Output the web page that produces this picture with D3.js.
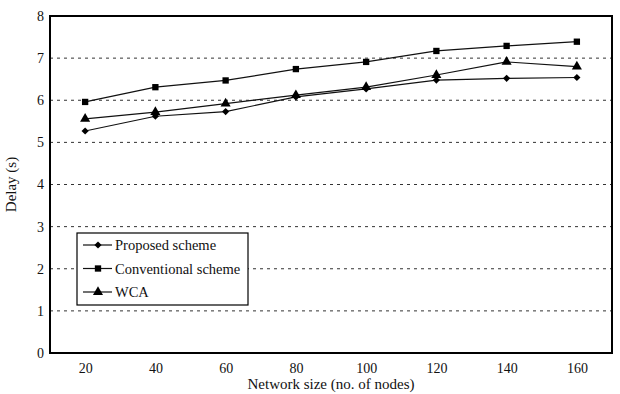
<!DOCTYPE html>
<html>
<head>
<meta charset="utf-8">
<script src="https://cdn.jsdelivr.net/npm/d3@7"></script>
<style>
  body { margin: 0; background: #fff; }
  svg { font-family: "Liberation Serif", "Times New Roman", serif; }
</style>
</head>
<body>
<svg width="620" height="394"></svg>
<script>
// chart data
const nodes = [20, 40, 60, 80, 100, 120, 140, 160];
const proposed = [5.27, 5.62, 5.73, 6.08, 6.27, 6.48, 6.52, 6.54];
const conventional = [5.96, 6.31, 6.47, 6.74, 6.91, 7.17, 7.29, 7.39];
const wca = [5.56, 5.72, 5.92, 6.12, 6.31, 6.60, 6.91, 6.80];
const yTicks = [0, 1, 2, 3, 4, 5, 6, 7, 8];
const seriesNames = ['Proposed scheme', 'Conventional scheme', 'WCA'];

const margin = { left: 50, right: 8, top: 16, bottom: 41 };
const svg = d3.select('svg');
const width = 620 - margin.left - margin.right;
const height = 394 - margin.top - margin.bottom;
const g = svg.append('g').attr('transform', `translate(${margin.left}, ${margin.top})`);

const x = d3.scalePoint().domain(nodes).range([0, width]).padding(0.5);
const y = d3.scaleLinear().domain([0, 8]).range([height, 0]);

// dashed grid
g.selectAll('.grid')
  .data(yTicks.filter(d => d > 0 && d < 8))
  .enter().append('line')
  .attr('x1', 0).attr('x2', width)
  .attr('y1', d => y(d)).attr('y2', d => y(d))
  .attr('stroke', '#333').attr('stroke-width', 1)
  .attr('stroke-dasharray', '3,4');

// y axis labels
const yAxis = g.append('g').call(d3.axisLeft(y).tickValues(yTicks).tickSize(0).tickPadding(6));
yAxis.select('.domain').remove();
yAxis.selectAll('text').attr('font-size', 14).attr('font-family', 'Liberation Serif').attr('fill', '#111');

// x axis labels
const xAxis = g.append('g').attr('transform', `translate(0, ${height})`)
  .call(d3.axisBottom(x).tickSize(0).tickPadding(10));
xAxis.select('.domain').remove();
xAxis.selectAll('text').attr('font-size', 14).attr('font-family', 'Liberation Serif').attr('fill', '#111');

// frame
g.append('rect')
  .attr('x', 0).attr('y', 0).attr('width', width).attr('height', height)
  .attr('fill', 'none').attr('stroke', '#000').attr('stroke-width', 2);

// axis titles
svg.append('text')
  .attr('x', margin.left + width / 2).attr('y', 389)
  .attr('text-anchor', 'middle').attr('font-size', 15).attr('fill', '#111')
  .text('Network size (no. of nodes)');
svg.append('text')
  .attr('transform', `translate(16, ${margin.top + height / 2}) rotate(-90)`)
  .attr('text-anchor', 'middle').attr('font-size', 15).attr('fill', '#111')
  .text('Delay (s)');

// marker shapes (diamond = rotated square)
const symbols = [d3.symbolSquare, d3.symbolSquare, d3.symbolTriangle];
const sizes = [26, 40, 44];
const rot = [' rotate(45)', '', ''];
const seriesData = [proposed, conventional, wca];

const line = d3.line().x((d, i) => x(nodes[i])).y(d => y(d));

seriesData.forEach((vals, s) => {
  g.append('path')
    .datum(vals)
    .attr('d', line)
    .attr('fill', 'none').attr('stroke', '#111').attr('stroke-width', 1.2);
  g.selectAll('.m' + s)
    .data(vals)
    .enter().append('path')
    .attr('transform', (d, i) => `translate(${x(nodes[i])}, ${y(d)})` + rot[s])
    .attr('d', d3.symbol().type(symbols[s]).size(sizes[s]))
    .attr('fill', '#000');
});

// legend
const legend = svg.append('g').attr('transform', 'translate(77, 233)');
legend.append('rect')
  .attr('width', 171).attr('height', 72)
  .attr('fill', '#fff').attr('stroke', '#000').attr('stroke-width', 1.2);
seriesNames.forEach((name, i) => {
  const ly = 12 + i * 23.5;
  legend.append('line')
    .attr('x1', 6).attr('x2', 35).attr('y1', ly).attr('y2', ly)
    .attr('stroke', '#111').attr('stroke-width', 1.2);
  legend.append('path')
    .attr('transform', `translate(21, ${ly})` + rot[i])
    .attr('d', d3.symbol().type(symbols[i]).size(sizes[i]))
    .attr('fill', '#000');
  legend.append('text')
    .attr('x', 38).attr('y', ly + 5)
    .attr('font-size', 14.5).attr('fill', '#111')
    .text(name);
});
</script>
</body>
</html>
